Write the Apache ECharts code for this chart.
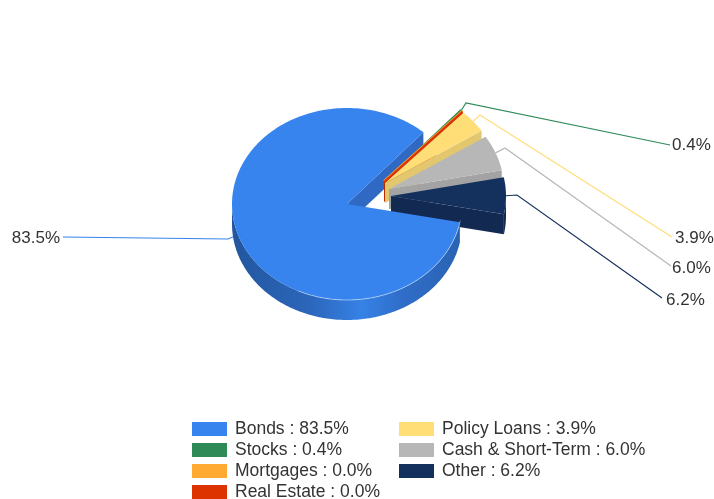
<!DOCTYPE html>
<html>
<head>
<meta charset="utf-8">
<title>Asset allocation</title>
<script src="https://cdn.jsdelivr.net/npm/echarts@6/dist/echarts.min.js"></script>
<style>
  html, body { margin: 0; padding: 0; background: #fff; }
  #chart { width: 714px; height: 499px; }
</style>
</head>
<body>
<div id="chart"></div>
<script>
  const categories = ['Bonds', 'Stocks', 'Mortgages', 'Real Estate', 'Policy Loans', 'Cash & Short-Term', 'Other'];
  const shares = [83.5, 0.4, 0.0, 0.0, 3.9, 6.0, 6.2];

  const topColors = ['#3784EE', '#2E8B57', '#FFAA33', '#DD3300', '#FFDD77', '#B7B7B7', '#14315E'];
  const wallColors = ['#2F69C4', '#26744A', '#D98F2B', '#BB2B00', '#E3C76E', '#A3A3A3', '#122A52'];

  // pie geometry, angles are degrees clockwise from 12 o'clock
  const cx = 347, cy = 204, rx = 115, ry = 96, depth = 20, startAngle = 101;
  // how far each slice is pulled out of the pie
  const pull = [[0, 0], [37, -23], [37, -23], [37, -22], [38, -21], [42, -15], [44, -8]];
  // leader lines: elbow, end of the line, label anchor
  const leaders = {
    0: {elbow: [228, 239], end: [63, 237], label: [60, 238], align: 'right'},
    1: {elbow: [466, 103], end: [670, 145], label: [672, 145], align: 'left'},
    4: {elbow: [480, 115], end: [672, 237], label: [675, 238], align: 'left'},
    5: {elbow: [505, 148], end: [671, 266], label: [672, 268], align: 'left'},
    6: {elbow: [517, 195], end: [662, 298], label: [666, 300], align: 'left'}
  };

  const total = shares.reduce((a, b) => a + b, 0);
  let acc = startAngle;
  const slices = shares.map((v, i) => {
    const from = acc;
    acc += v / total * 360;
    return {from: from, to: acc, ox: cx + pull[i][0], oy: cy + pull[i][1]};
  });

  function rim(s, deg, drop) {
    const a = deg * Math.PI / 180;
    return [s.ox + rx * Math.sin(a), s.oy - ry * Math.cos(a) + (drop || 0)];
  }

  function arcPoints(s, from, to, drop) {
    const pts = [];
    for (let d = from; d < to; d += 1) pts.push(rim(s, d, drop));
    pts.push(rim(s, to, drop));
    return pts;
  }

  // the part of the rim that faces the viewer
  function outerWall(s) {
    const ranges = [[90, 270], [450, 630]];
    const out = [];
    ranges.forEach(r => {
      const from = Math.max(s.from, r[0]), to = Math.min(s.to, r[1]);
      if (to > from) out.push(arcPoints(s, from, to).concat(arcPoints(s, from, to, depth).reverse()));
    });
    return out;
  }

  function endWall(s) {
    const e = rim(s, s.to);
    return [[s.ox, s.oy], e, [e[0], e[1] + depth], [s.ox, s.oy + depth]];
  }

  function topFace(s) {
    return [[s.ox, s.oy]].concat(arcPoints(s, s.from, s.to));
  }

  function wallFill(i) {
    if (i !== 0) return wallColors[i];
    return new echarts.graphic.LinearGradient(0, 0, 1, 0, [
      {offset: 0, color: '#22569E'},
      {offset: 0.35, color: '#2C67BC'},
      {offset: 0.57, color: '#3682E6'},
      {offset: 0.75, color: '#2F6DC8'},
      {offset: 1, color: '#2A63B4'}
    ]);
  }

  function poly(points, fill, stroke) {
    return {
      type: 'polygon',
      shape: {points: points},
      style: {fill: fill, stroke: stroke || null, lineWidth: stroke ? 2 : 0}
    };
  }

  function sliceSeries(i, part, z) {
    const s = slices[i];
    const thin = shares[i] < 0.1;
    return {
      type: 'custom',
      name: categories[i],
      coordinateSystem: 'none',
      silent: true,
      z: z,
      data: [shares[i]],
      renderItem: function () {
        const children = [];
        if (part !== 'top') children.push(poly(endWall(s), wallColors[i]));
        if (part !== 'wall') {
          outerWall(s).forEach(p => children.push(poly(p, wallFill(i))));
          children.push(poly(topFace(s), topColors[i], thin ? topColors[i] : null));
        }
        if (part === 'top') {
          // thin light line along the front rim
          children.push({
            type: 'polyline',
            shape: {points: arcPoints(s, 100, 205)},
            style: {fill: null, stroke: 'rgba(255,255,255,0.45)', lineWidth: 1}
          });
        }
        return {type: 'group', children: children};
      }
    };
  }

  const leaderSeries = {
    type: 'custom',
    name: 'leaders',
    coordinateSystem: 'none',
    silent: true,
    z: 1,
    data: Object.keys(leaders).map(Number),
    renderItem: function (params, api) {
      const i = api.value(0);
      const l = leaders[i];
      const s = slices[i];
      const start = rim(s, (s.from + s.to) / 2);
      return {
        type: 'group',
        children: [{
          type: 'polyline',
          shape: {points: [start, l.elbow, l.end]},
          style: {fill: null, stroke: topColors[i], lineWidth: 1.2}
        }, {
          type: 'text',
          x: l.label[0],
          y: l.label[1],
          style: {
            text: shares[i].toFixed(1) + '%',
            fill: '#333',
            font: '17px "Liberation Sans", Arial, sans-serif',
            align: l.align,
            verticalAlign: 'middle'
          }
        }]
      };
    }
  };

  function legendFor(indexes, left) {
    return {
      left: left,
      top: 420,
      height: 120,
      orient: 'vertical',
      itemWidth: 35,
      itemHeight: 14,
      itemGap: 3,
      icon: 'rect',
      selectedMode: false,
      padding: 0,
      data: indexes.map(i => ({name: categories[i], itemStyle: {color: topColors[i]}})),
      formatter: name => name + ' : ' + shares[categories.indexOf(name)].toFixed(1) + '%',
      textStyle: {fontSize: 17.5, padding: [0, 0, 0, 3], color: '#333', fontFamily: '"Liberation Sans", Arial, sans-serif'}
    };
  }

  const chart = echarts.init(document.getElementById('chart'));
  chart.setOption({
    animation: false,
    backgroundColor: '#fff',
    tooltip: {show: false},
    legend: [legendFor([0, 1, 2, 3], 192), legendFor([4, 5, 6], 399)],
    series: [
      leaderSeries,
      sliceSeries(0, 'wall', 2),
      sliceSeries(1, 'all', 3),
      sliceSeries(2, 'all', 4),
      sliceSeries(3, 'all', 5),
      sliceSeries(4, 'all', 6),
      sliceSeries(5, 'all', 7),
      sliceSeries(6, 'all', 8),
      sliceSeries(0, 'top', 9)
    ]
  });
</script>
</body>
</html>
